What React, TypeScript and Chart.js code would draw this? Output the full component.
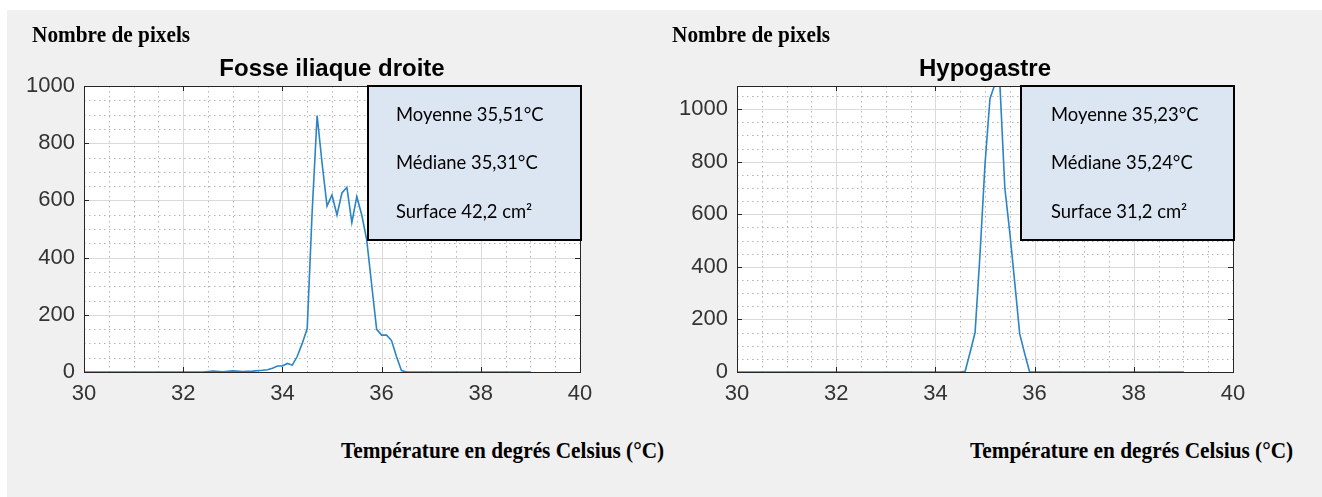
import React, { useEffect, useRef } from "react";
import { Chart, registerables } from "chart.js";

Chart.register(...registerables);

// ---------- data ----------
const yAxisLabel = "Nombre de pixels";
const xAxisLabel = "Température en degrés Celsius (°C)";

const leftTitle = "Fosse iliaque droite";
const leftTemps = [
  30.0, 32.4, 32.6, 32.8, 33.0, 33.2, 33.4, 33.6, 33.7, 33.8, 33.9, 34.0, 34.1,
  34.2, 34.3, 34.4, 34.5, 34.6, 34.7, 34.8, 34.9, 35.0, 35.1, 35.2, 35.3, 35.4,
  35.5, 35.6, 35.7, 35.8, 35.9, 36.0, 36.1, 36.2, 36.3, 36.4, 36.5, 39.0,
];
const leftCounts = [
  0, 0, 3, 1, 4, 2, 3, 6, 8, 13, 21, 21, 30,
  24, 55, 100, 152, 560, 897, 730, 580, 619, 549, 626, 646, 522,
  613, 549, 462, 305, 149, 129, 129, 110, 54, 5, 0, 0,
];
const leftStats = ["Moyenne 35,51°C", "Médiane 35,31°C", "Surface 42,2 cm²"];
const leftYMax = 1000;

const rightTitle = "Hypogastre";
const rightTemps = [
  30.0, 34.5, 34.6, 34.7, 34.8, 34.9, 35.0, 35.1, 35.2, 35.3, 35.4, 35.5, 35.6,
  35.7, 35.8, 35.9, 39.0,
];
const rightCounts = [
  0, 0, 3, 75, 150, 450, 790, 1040, 1095, 1095, 700, 530, 340,
  145, 70, 0, 0,
];
const rightStats = ["Moyenne 35,23°C", "Médiane 35,24°C", "Surface 31,2 cm²"];
const rightYMax = 1088;

const xTicks = [30, 32, 34, 36, 38, 40];
const yTicks = [0, 200, 400, 600, 800, 1000];
const xMin = 30;
const xMax = 40;

// ---------- styling constants ----------
const X_MINOR = 0.5;
const Y_MINOR = 50;
const LINE_COLOR = "#2a84c6";
const AXIS_COLOR = "#262626";

type Props = {
  title: string;
  temps: number[];
  counts: number[];
  yMax: number;
  stats: string[];
  textDx: number;
};

function Histogram({ title, temps, counts, yMax, stats, textDx }: Props) {
  const ref = useRef<HTMLCanvasElement | null>(null);

  useEffect(() => {
    const canvas = ref.current;
    if (!canvas) return;

    const matlabAxes = {
      id: "matlabAxes",
      beforeDatasetsDraw(chart: any) {
        const { ctx, chartArea: a, scales } = chart;
        const xs = scales.x;
        const ys = scales.y;
        ctx.save();
        ctx.fillStyle = "#ffffff";
        ctx.fillRect(a.left, a.top, a.right - a.left, a.bottom - a.top);

        // minor dotted grid
        ctx.strokeStyle = "#b5b5b5";
        ctx.lineWidth = 1;
        ctx.setLineDash([1.5, 3.5]);
        const nx = Math.round((xMax - xMin) / X_MINOR);
        for (let i = 1; i < nx; i++) {
          const v = xMin + i * X_MINOR;
          if (xTicks.includes(v)) continue;
          const p = Math.round(xs.getPixelForValue(v)) + 0.5;
          ctx.beginPath();
          ctx.moveTo(p, a.top);
          ctx.lineTo(p, a.bottom);
          ctx.stroke();
        }
        const ny = Math.floor(yMax / Y_MINOR);
        for (let i = 1; i <= ny; i++) {
          const v = i * Y_MINOR;
          if (yTicks.includes(v) || v >= yMax) continue;
          const p = Math.round(ys.getPixelForValue(v)) + 0.5;
          ctx.beginPath();
          ctx.moveTo(a.left, p);
          ctx.lineTo(a.right, p);
          ctx.stroke();
        }
        // major grid
        ctx.setLineDash([]);
        ctx.strokeStyle = "#dadada";
        for (const v of xTicks) {
          const p = Math.round(xs.getPixelForValue(v)) + 0.5;
          ctx.beginPath();
          ctx.moveTo(p, a.top);
          ctx.lineTo(p, a.bottom);
          ctx.stroke();
        }
        for (const v of yTicks) {
          const p = Math.round(ys.getPixelForValue(v)) + 0.5;
          ctx.beginPath();
          ctx.moveTo(a.left, p);
          ctx.lineTo(a.right, p);
          ctx.stroke();
        }
        ctx.restore();
      },
      afterDatasetsDraw(chart: any) {
        const { ctx, chartArea: a, scales } = chart;
        const xs = scales.x;
        const ys = scales.y;
        ctx.save();
        // axes box
        ctx.strokeStyle = AXIS_COLOR;
        ctx.lineWidth = 1;
        ctx.strokeRect(a.left + 0.5, a.top + 0.5, a.right - a.left, a.bottom - a.top);
        // inward tick marks
        const tl = 5;
        for (const v of xTicks) {
          const p = Math.round(xs.getPixelForValue(v)) + 0.5;
          ctx.beginPath();
          ctx.moveTo(p, a.bottom);
          ctx.lineTo(p, a.bottom - tl);
          ctx.moveTo(p, a.top);
          ctx.lineTo(p, a.top + tl);
          ctx.stroke();
        }
        for (const v of yTicks) {
          const p = Math.round(ys.getPixelForValue(v)) + 0.5;
          ctx.beginPath();
          ctx.moveTo(a.left, p);
          ctx.lineTo(a.left + tl, p);
          ctx.moveTo(a.right, p);
          ctx.lineTo(a.right - tl, p);
          ctx.stroke();
        }
        // statistics box
        const bw = 213;
        const bh = 154;
        const bx = a.right - bw + 1;
        const by = a.top;
        ctx.fillStyle = "#dce6f2";
        ctx.fillRect(bx, by, bw, bh);
        ctx.strokeStyle = "#000000";
        ctx.lineWidth = 2;
        ctx.strokeRect(bx, by, bw, bh);
        ctx.fillStyle = "#000000";
        ctx.font = '18.4px "Lato", "Liberation Sans", sans-serif';
        ctx.textAlign = "left";
        ctx.textBaseline = "middle";
        const rows = [29, 77, 126];
        stats.forEach((s, i) => ctx.fillText(s, bx + textDx, by + rows[i]));
        // title
        ctx.font = 'bold 24px "Liberation Sans", Arial, sans-serif';
        ctx.textAlign = "center";
        ctx.textBaseline = "middle";
        ctx.fillStyle = "#000000";
        ctx.fillText(title, (a.left + a.right) / 2, a.top - 17);
        ctx.restore();
      },
    };

    const tickFont = { family: '"Liberation Sans", Arial, sans-serif', size: 22 };

    const chart = new Chart(canvas, {
      type: "line",
      data: {
        datasets: [
          {
            data: temps.map((t, i) => ({ x: t, y: counts[i] })),
            borderColor: LINE_COLOR,
            borderWidth: 1.6,
            pointRadius: 0,
            tension: 0,
            fill: false,
          },
        ],
      },
      options: {
        animation: false,
        responsive: false,
        maintainAspectRatio: false,
        events: [],
        layout: { padding: { left: 0, right: 60, top: 46, bottom: 0 } },
        plugins: {
          legend: { display: false },
          tooltip: { enabled: false },
          title: { display: false },
        },
        scales: {
          x: {
            type: "linear",
            min: xMin,
            max: xMax,
            afterBuildTicks: (s: any) => {
              s.ticks = xTicks.map((v) => ({ value: v }));
            },
            afterFit: (s: any) => {
              s.height = 48;
            },
            grid: { display: false, drawTicks: false },
            border: { display: false },
            ticks: {
              padding: 9,
              color: "#333333",
              font: tickFont,
              maxRotation: 0,
              autoSkip: false,
              callback: (v: any) => String(v),
            },
          },
          y: {
            type: "linear",
            min: 0,
            max: yMax,
            afterBuildTicks: (s: any) => {
              s.ticks = yTicks.map((v) => ({ value: v }));
            },
            afterFit: (s: any) => {
              s.width = 84;
            },
            grid: { display: false, drawTicks: false },
            border: { display: false },
            ticks: {
              padding: 9,
              color: "#333333",
              font: tickFont,
              autoSkip: false,
              callback: (v: any) => String(v),
            },
          },
        },
      },
      plugins: [matlabAxes],
    } as any);

    return () => chart.destroy();
  }, [title, temps, counts, yMax, stats, textDx]);

  return <canvas ref={ref} width={640} height={380} style={{ display: "block" }} />;
}

const serifBold: React.CSSProperties = {
  position: "absolute",
  font: 'bold 21.3px "Liberation Serif", "Times New Roman", serif',
  lineHeight: "24px",
  whiteSpace: "nowrap",
  color: "#000",
  transform: "scaleY(1.1)",
  transformOrigin: "left center",
};

export default function App() {
  return (
    <div style={{ position: "absolute", left: 0, top: 0, width: 1322, height: 497, background: "#ffffff", overflow: "hidden" }}>
      <div style={{ position: "absolute", left: 7, top: 10, width: 1315, height: 487, background: "#f0f0f0" }} />
      <div style={{ position: "absolute", left: 0, top: 40 }}>
        <Histogram title={leftTitle} temps={leftTemps} counts={leftCounts} yMax={leftYMax} stats={leftStats} textDx={28} />
      </div>
      <div style={{ position: "absolute", left: 653, top: 40 }}>
        <Histogram title={rightTitle} temps={rightTemps} counts={rightCounts} yMax={rightYMax} stats={rightStats} textDx={30} />
      </div>
      <div style={{ ...serifBold, left: 32, top: 22 }}>{yAxisLabel}</div>
      <div style={{ ...serifBold, left: 672, top: 22 }}>{yAxisLabel}</div>
      <div style={{ ...serifBold, left: 341, top: 438 }}>{xAxisLabel}</div>
      <div style={{ ...serifBold, left: 970, top: 438 }}>{xAxisLabel}</div>
    </div>
  );
}
